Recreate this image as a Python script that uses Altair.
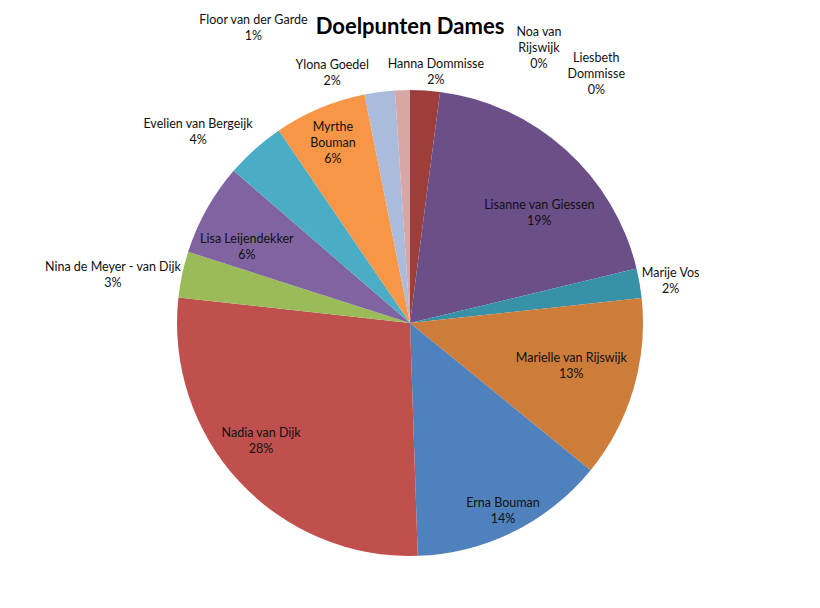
import altair as alt
import pandas as pd

# ---- data ----
title_text = ["Doelpunten Dames"]
names = [
    "Hanna Dommisse", "Lisanne van Giessen", "Marije Vos", "Marielle van Rijswijk",
    "Erna Bouman", "Nadia van Dijk", "Nina de Meyer - van Dijk", "Lisa Leijendekker",
    "Evelien van Bergeijk", "Myrthe Bouman", "Ylona Goedel", "Floor van der Garde",
    "Noa van Rijswijk", "Liesbeth Dommisse",
]
# label text as shown (with the line breaks used in the picture)
label_names = [
    "Hanna Dommisse", "Lisanne van Giessen", "Marije Vos", "Marielle van Rijswijk",
    "Erna Bouman", "Nadia van Dijk", "Nina de Meyer - van Dijk", "Lisa Leijendekker",
    "Evelien van Bergeijk", "Myrthe\nBouman", "Ylona Goedel", "Floor van der Garde",
    "Noa van\nRijswijk", "Liesbeth\nDommisse",
]
values = [2.06, 19.2, 2.06, 12.6, 13.6, 27.3, 3.2, 6.4, 4.15, 6.4, 2.1, 1.03, 0.0, 0.0]
pct_labels = ["2%", "19%", "2%", "13%", "14%", "28%", "3%", "6%", "4%", "6%", "2%", "1%", "0%", "0%"]

colors = [
    "#9E3E3B", "#6A4F88", "#3792A8", "#CE7C3A", "#4F81BD", "#C0504D", "#9BBB59",
    "#8064A2", "#4BACC6", "#F79646", "#AABBDC", "#D8A6A5", "#4F81BD", "#C0504D",
]

# ---- label layout (angle nudge from slice middle in degrees, distance from centre in px) ----
label_nudge = [2.2, 7.6, 0.7, -1.6, 0.1, 4.4, -2.8, -4.3, -6.3, -0.4, -9.8, -26.1, 25.1, 36.8]
label_radius = [252, 170, 264, 167, 210, 190, 301, 180, 285, 196, 262, 334, 304, 311]

labels_text = [f"{n}\n{p}" for n, p in zip(label_names, pct_labels)]
df = pd.DataFrame({
    "idx": list(range(len(names))),
    "name": names,
    "value": values,
    "label": labels_text,
    "nlines": [t.count("\n") + 1 for t in labels_text],
    "nudge": label_nudge,
    "lr": label_radius,
})

FONT = "Lato"
LH = 16
W, H = 804, 550

base = alt.Chart(df)

pie = base.mark_arc(outerRadius=233).encode(
    theta=alt.Theta("value:Q", stack=True),
    color=alt.Color("name:N", scale=alt.Scale(domain=names, range=colors), legend=None),
    order=alt.Order("idx:Q"),
)

label_base = base.transform_joinaggregate(
    total="sum(value)"
).transform_window(
    cum="sum(value)", sort=[alt.SortField("idx", order="ascending")],
    frame=[None, 0],
).transform_calculate(
    ang="((datum.cum - datum.value / 2) / datum.total * 360 + datum.nudge) * PI / 180"
)


def label_layer(n):
    return label_base.transform_filter(alt.datum.nlines == n).mark_text(
        font=FONT, fontSize=12.5, lineHeight=LH, color="#111111",
        lineBreak="\n", align="center", baseline="middle",
        dy=-(n - 1) * LH / 2,
    ).encode(
        theta=alt.Theta("ang:Q", scale=None, stack=False),
        radius=alt.Radius("lr:Q", scale=None),
        text="label:N",
    )


title = alt.Chart(pd.DataFrame({"t": title_text})).mark_text(
    font=FONT, fontSize=22, fontWeight="bold", color="#000000",
    align="center", baseline="alphabetic",
).encode(
    text="t:N",
    x=alt.value(W / 2),
    y=alt.value(-14),
)

chart = alt.layer(pie, label_layer(2), label_layer(3), title).properties(
    width=W,
    height=H,
    padding={"left": 0, "top": 40, "right": 0, "bottom": 0},
    autosize=alt.AutoSizeParams(type="none"),
).configure_view(stroke=None)

chart.save("out.html", embed_options={"renderer": "svg", "actions": False})
